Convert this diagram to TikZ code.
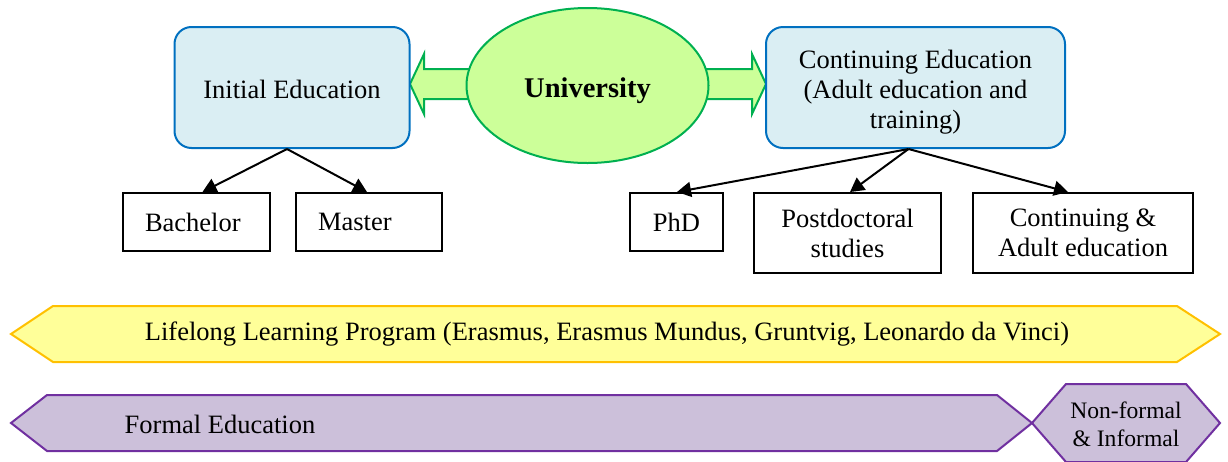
\documentclass[tikz,border=0pt]{standalone}
\usepackage{fontspec}
\setmainfont{Liberation Serif}
\usetikzlibrary{arrows.meta,calc,shapes.geometric}
\definecolor{boxfill}{HTML}{DAEEF3}
\definecolor{boxline}{HTML}{0070C0}
\definecolor{grfill}{HTML}{CCFF99}
\definecolor{grline}{HTML}{00B050}
\definecolor{yefill}{HTML}{FFFF99}
\definecolor{yeline}{HTML}{FFC000}
\definecolor{pufill}{HTML}{CCC0DA}
\definecolor{puline}{HTML}{7030A0}
\tikzset{
  bigtext/.style={font=\fontsize{26.5}{30}\selectfont},
  roundbox/.style={bigtext, draw=boxline, fill=boxfill, line width=2pt, rounded corners=17pt, align=center, inner sep=0pt},
  plainbox/.style={bigtext, draw=black, line width=2pt, inner sep=0pt, align=center},
  conn/.style={line width=2pt, -{Triangle[length=14pt,width=15pt]}},
  blockarrow/.style={draw=grline, fill=grfill, line width=2pt, line join=miter},
  banner/.style={line width=2pt, line join=miter},
}
\begin{document}
\begin{tikzpicture}[x=1pt,y=-1pt]
\useasboundingbox (0,0) rectangle (1228,461);
% block arrows
\draw[blockarrow] (480,69) -- (424,69) -- (424,54) -- (410,84) -- (424,114) -- (424,99) -- (480,99) -- cycle;
\draw[blockarrow] (695,69) -- (752,69) -- (752,54) -- (766,84) -- (752,114) -- (752,99) -- (695,99) -- cycle;
% top row
\node[roundbox, minimum width=235pt, minimum height=121pt, text height=21pt, text depth=0pt] (ie) at (292,87.5) {Initial Education};
\node[draw=grline, fill=grfill, line width=2pt, ellipse, minimum width=242pt, minimum height=155pt, inner sep=0pt, text height=24pt, text depth=0pt, font=\fontsize{28.5}{30}\selectfont\bfseries] (uni) at (587.5,85.5) {University};
\node[roundbox, minimum width=299pt, minimum height=121pt] (ce) at (915.5,87.5) {};
\node[bigtext, align=center, inner sep=0pt] (cetext) at (915.5,92) {Continuing Education\\(Adult education and\\training)};
% second row
\node[plainbox, minimum width=147pt, minimum height=58pt, text width=103pt, inner xsep=22pt, align=left] (ba) at (196.5,222) {Bachelor};
\node[plainbox, minimum width=146pt, minimum height=58pt, text width=102pt, inner xsep=22pt, align=left] (ma) at (369,222) {Master};
\node[plainbox, minimum width=93pt, minimum height=58pt] (phd) at (676.5,222) {PhD};
\node[plainbox, minimum width=187pt, minimum height=80pt] (pd) at (847.5,233) {Postdoctoral\\studies};
\node[plainbox, minimum width=220pt, minimum height=80pt] (ca) at (1083,233) {Continuing \&\\Adult education};
% connectors
\coordinate (ieb) at ($(ie.south)+(-5,0)$);
\coordinate (ceb) at ($(ce.south)+(-7,0)$);
\draw[conn] (ieb) -- ($(ba.north)+(6,0)$);
\draw[conn] (ieb) -- ($(ma.north)+(-2,0)$);
\draw[conn] (ceb) -- ($(phd.north)+(0.5,0)$);
\draw[conn] (ceb) -- ($(pd.north)+(2.5,0)$);
\draw[conn] (ceb) -- ($(ca.north)+(-15,0)$);
% banners
\draw[banner, draw=yeline, fill=yefill] (11,334) -- (53,306) -- (1177,306) -- (1220,334) -- (1177,362) -- (53,362) -- cycle;
\node[bigtext] (llp) at (607,334) {Lifelong Learning Program (Erasmus, Erasmus Mundus, Gruntvig, Leonardo da Vinci)};
\draw[banner, draw=puline, fill=pufill] (11,423) -- (47,395) -- (997,395) -- (1032,423) -- (997,451) -- (47,451) -- cycle;
\draw[banner, draw=puline, fill=pufill] (1032,423) -- (1066,384) -- (1186,384) -- (1220,423) -- (1186,462) -- (1066,462) -- cycle;
\node[bigtext] (fe) at (220,424) {Formal Education};
\node[font=\fontsize{23.6}{28}\selectfont, align=center] (nf) at (1126,424) {Non-formal\\\& Informal};
\end{tikzpicture}
\end{document}
